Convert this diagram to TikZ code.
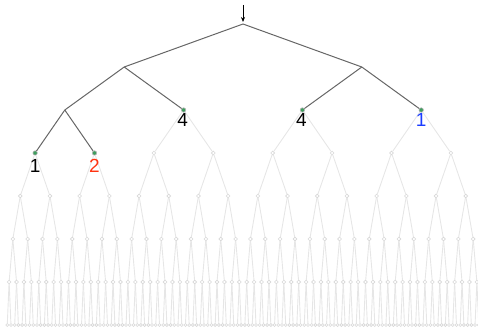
\documentclass[tikz,border=0pt]{standalone}
\usepackage{fontspec}
\setmainfont{Liberation Sans}
\usetikzlibrary{arrows.meta}
\definecolor{darkedge}{HTML}{666666}
\definecolor{lightedge}{HTML}{E6E6E6}
\definecolor{lightnode}{HTML}{D8D8D8}
\definecolor{greenfill}{HTML}{3E9E5E}
\definecolor{labred}{HTML}{FF3311}
\definecolor{labblue}{HTML}{1A3CFF}
\tikzset{
  lnode/.style={circle,draw=lightnode,fill=white,line width=0.6pt,inner sep=0pt,minimum size=3.8pt},
  snode/.style={circle,draw=lightnode,fill=white,line width=0.6pt,inner sep=0pt,minimum size=3pt},
  gnode/.style={circle,draw=black!30,fill=greenfill,line width=0.6pt,inner sep=0pt,minimum size=4.4pt},
  dedge/.style={draw=darkedge,line width=1pt},
  ledge/.style={draw=lightedge,line width=0.9pt},
  lbl/.style={inner sep=0pt,font=\fontsize{19}{19}\selectfont}
}
\begin{document}
\begin{tikzpicture}[x=1pt,y=-1pt]
\useasboundingbox (0,0) rectangle (478,328);
\coordinate (n-0-0) at (243,24);
\coordinate (top) at (243,5);
% positions
\foreach \d in {1,...,7}{
  \pgfmathtruncatemacro\n{2^\d-1}
  \pgfmathsetmacro\w{475.2/(2^\d)}
  \foreach \i in {0,...,\n}{
    \pgfmathsetmacro\x{243+(\i+0.5-2^(\d-1))*\w}
    \pgfmathsetmacro\y{24+43*\d}
    \pgfmathtruncatemacro\kind{(\d==1) || (\d==2 && \i==0) ? 0 : ((\d==2) || (\d==3 && \i<2) ? 1 : (\d==7 ? 3 : 2))}
    \ifcase\kind
      \coordinate (n-\d-\i) at (\x,\y);
    \or
      \node[gnode] (n-\d-\i) at (\x,\y) {};
    \or
      \node[lnode] (n-\d-\i) at (\x,\y) {};
    \or
      \node[snode] (n-\d-\i) at (\x,\y) {};
    \fi
  }
}
% light edges
\foreach \d in {1,...,7}{
  \pgfmathtruncatemacro\n{2^\d-1}
  \pgfmathtruncatemacro\pd{\d-1}
  \foreach \i in {0,...,\n}{
    \pgfmathtruncatemacro\p{\i/2}
    \pgfmathtruncatemacro\dk{(\d<=2) || (\d==3 && \i<2) ? 1 : 0}
    \ifnum\dk=0
      \draw[ledge] (n-\pd-\p) -- (n-\d-\i);
    \fi
  }
}
% dark edges
\foreach \d in {1,2,3}{
  \pgfmathtruncatemacro\n{2^\d-1}
  \pgfmathtruncatemacro\pd{\d-1}
  \foreach \i in {0,...,\n}{
    \pgfmathtruncatemacro\p{\i/2}
    \pgfmathtruncatemacro\dk{(\d<=2) || (\d==3 && \i<2) ? 1 : 0}
    \ifnum\dk=1
      \draw[dedge] (n-\pd-\p) -- (n-\d-\i);
    \fi
  }
}
\draw[line width=0.8pt,-{Stealth[length=5pt,width=4pt]},shorten >=2pt] (top) -- (n-0-0);
% labels
\node[lbl] (l-2-1) at ([xshift=-1pt,yshift=-10pt]n-2-1) {4};
\node[lbl] (l-2-2) at ([xshift=-1pt,yshift=-10pt]n-2-2) {4};
\node[lbl,text=labblue] (l-2-3) at ([yshift=-10pt]n-2-3) {1};
\node[lbl] (l-3-0) at ([yshift=-13pt]n-3-0) {1};
\node[lbl,text=labred] (l-3-1) at ([yshift=-13pt]n-3-1) {2};
\end{tikzpicture}
\end{document}
